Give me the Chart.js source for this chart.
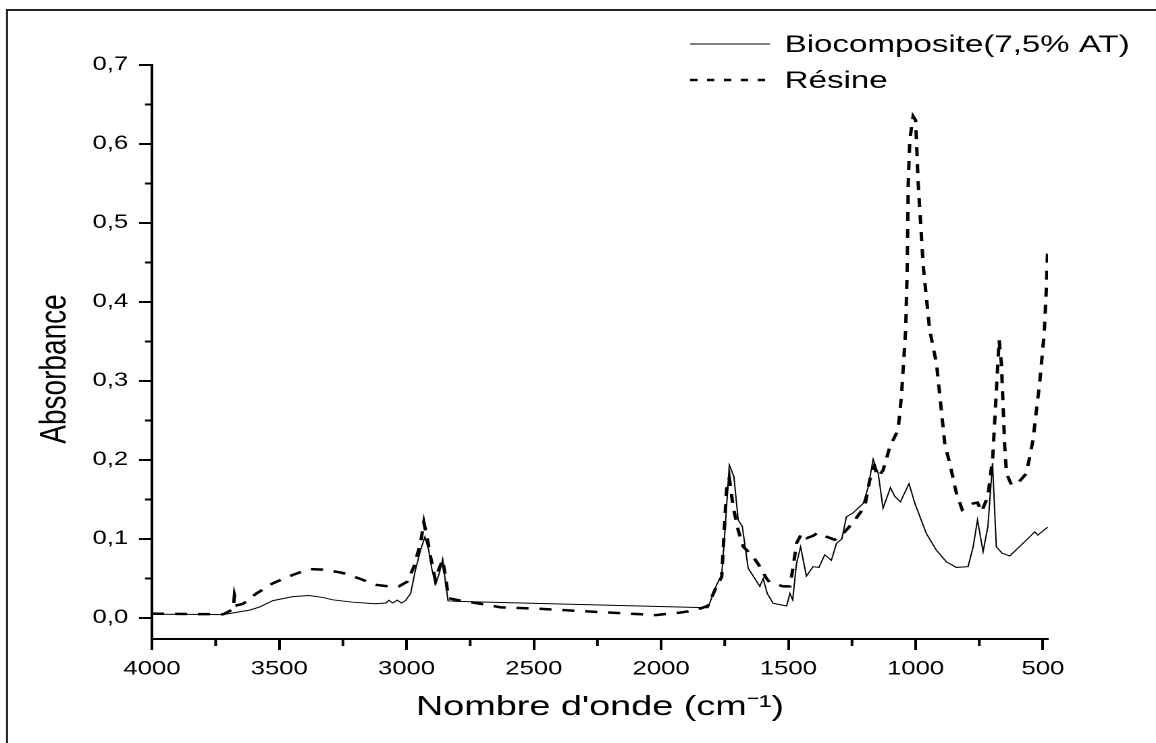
<!DOCTYPE html>
<html>
<head>
<meta charset="utf-8">
<script src="https://cdn.jsdelivr.net/npm/chart.js@4"></script>
<style>
  html, body { margin: 0; padding: 0; background: #fff; overflow: hidden; }
  /* the source figure is stretched sideways, so the chart is drawn narrow and widened */
  #wrap { width: 856px; height: 743px; transform: scaleX(1.3505); transform-origin: 0 0; }
</style>
</head>
<body>
<div id="wrap"><canvas id="chart" width="856" height="743"></canvas></div>
<script>
// wavenumbers (cm-1) and absorbance
const bioWave = [4000, 3850, 3720, 3681, 3616, 3577, 3525, 3447, 3382, 3330, 3290, 3212, 3121, 3080, 3069, 3055, 3036, 3020, 3004, 2984,
  2965, 2945, 2928, 2913, 2900, 2884, 2871, 2858, 2848, 2837, 2800, 1816, 1782, 1762, 1749, 1732, 1714, 1697, 1681, 1658,
  1612, 1599, 1583, 1560, 1507, 1494, 1483, 1468, 1452, 1429, 1403, 1380, 1357, 1331, 1311, 1290, 1272, 1246, 1206, 1186,
  1167, 1147, 1128, 1099, 1082, 1060, 1026, 1003, 958, 919, 879, 840, 794, 774, 757, 735, 716, 698, 683, 660,
  630, 551, 532, 520, 481];
const bioAbs = [0.0047, 0.0045, 0.0042, 0.0065, 0.010, 0.014, 0.022, 0.027, 0.0285, 0.026, 0.023, 0.020, 0.018, 0.019, 0.0225, 0.019, 0.0225, 0.019, 0.022, 0.031,
  0.061, 0.086, 0.1025, 0.086, 0.061, 0.044, 0.057, 0.0745, 0.048, 0.0217, 0.021, 0.013, 0.042, 0.054, 0.111, 0.1937, 0.179, 0.124, 0.116, 0.063,
  0.040, 0.050, 0.031, 0.0186, 0.0152, 0.031, 0.023, 0.069, 0.090, 0.053, 0.065, 0.064, 0.080, 0.073, 0.0945, 0.100, 0.128, 0.133, 0.145, 0.166,
  0.201, 0.183, 0.139, 0.165, 0.154, 0.147, 0.170, 0.145, 0.107, 0.086, 0.071, 0.064, 0.065, 0.090, 0.124, 0.084, 0.116, 0.196, 0.090, 0.082,
  0.0785, 0.103, 0.109, 0.105, 0.115];

const resWave = [4000, 3850, 3720, 3694, 3681, 3676, 3666, 3642, 3590, 3525, 3447, 3382, 3316, 3251, 3186, 3121, 3069, 3030, 2997, 2971,
  2945, 2932, 2919, 2906, 2887, 2874, 2858, 2845, 2835, 2796, 2692, 2630, 2500, 2214, 2021, 1926, 1861, 1816, 1782, 1762,
  1743, 1732, 1717, 1697, 1677, 1638, 1612, 1586, 1573, 1520, 1494, 1481, 1468, 1448, 1429, 1403, 1384, 1351, 1318, 1290,
  1266, 1239, 1200, 1180, 1163, 1147, 1128, 1101, 1069, 1056, 1039, 1033, 1029, 1023, 1010, 1000, 990, 970, 945, 918,
  885, 866, 840, 817, 790, 774, 757, 741, 716, 697, 677, 672, 663, 650, 643, 623, 600, 565, 539, 512,
  495, 486, 481];
const resAbs = [0.0055, 0.005, 0.0047, 0.009, 0.011, 0.029, 0.016, 0.018, 0.031, 0.044, 0.0545, 0.062, 0.061, 0.057, 0.050, 0.042, 0.040, 0.040, 0.046, 0.065,
  0.095, 0.121, 0.101, 0.078, 0.048, 0.061, 0.0735, 0.048, 0.025, 0.0225, 0.017, 0.0135, 0.012, 0.007, 0.0037, 0.0068, 0.010, 0.0155, 0.040, 0.052,
  0.162, 0.177, 0.141, 0.111, 0.090, 0.0776, 0.065, 0.050, 0.045, 0.040, 0.040, 0.065, 0.0945, 0.107, 0.101, 0.104, 0.108, 0.103, 0.099, 0.105,
  0.1135, 0.124, 0.141, 0.175, 0.1915, 0.179, 0.187, 0.217, 0.238, 0.280, 0.365, 0.445, 0.55, 0.605, 0.635, 0.63, 0.55, 0.445, 0.365, 0.322,
  0.219, 0.196, 0.158, 0.137, 0.143, 0.145, 0.146, 0.1346, 0.154, 0.204, 0.322, 0.352, 0.322, 0.217, 0.183, 0.168, 0.170, 0.183, 0.225, 0.30,
  0.36, 0.42, 0.47];

const seriesNames = ['Biocomposite(7,5% AT)', 'Résine'];
const xMajor = [4000, 3500, 3000, 2500, 2000, 1500, 1000, 500];
const xMinor = [3750, 3250, 2750, 2250, 1750, 1250, 750];
const yMajor = [0, 0.1, 0.2, 0.3, 0.4, 0.5, 0.6, 0.7];
const yMinor = [0.05, 0.15, 0.25, 0.35, 0.45, 0.55, 0.65];

const toPoints = (xs, ys) => xs.map((x, i) => ({ x, y: ys[i] }));
const FONT = "'Liberation Sans', Arial, sans-serif";

// frame, minor ticks, y title and the in-plot legend
const extras = {
  id: 'extras',
  beforeDraw(chart) {
    const c = chart.ctx;
    c.save();
    c.strokeStyle = '#222';
    c.lineWidth = 2;
    c.beginPath();
    c.moveTo(4.5, 10);
    c.lineTo(chart.width, 10);
    c.stroke();
    c.lineWidth = 1.5;
    c.beginPath();
    c.moveTo(5.2, 9);
    c.lineTo(5.2, chart.height);
    c.stroke();
    c.restore();
  },
  afterDraw(chart) {
    const c = chart.ctx;
    const xs = chart.scales.x, ys = chart.scales.y;
    const area = chart.chartArea;
    c.save();
    c.strokeStyle = '#000';
    c.lineWidth = 2;
    c.beginPath();
    xMinor.forEach(v => {
      const px = xs.getPixelForValue(v);
      c.moveTo(px, area.bottom);
      c.lineTo(px, area.bottom + 7);
    });
    yMinor.forEach(v => {
      const py = ys.getPixelForValue(v);
      c.moveTo(area.left, py);
      c.lineTo(area.left - 5.2, py);
    });
    c.stroke();

    // y title, sits a little below the axis middle in the source
    c.save();
    c.translate(40.7, 369);
    c.rotate(-Math.PI / 2);
    c.fillStyle = '#000';
    c.font = '28px ' + FONT;
    c.textAlign = 'center';
    c.textBaseline = 'middle';
    c.fillText('Absorbance', 0, 0);
    c.restore();

    // legend
    const rows = [44, 80];
    const dashes = [[], [5.5, 7]];
    chart.data.datasets.forEach((ds, i) => {
      c.strokeStyle = '#000';
      c.lineWidth = ds.borderWidth;
      c.setLineDash(dashes[i]);
      c.beginPath();
      c.moveTo(511, rows[i]);
      c.lineTo(i ? 567 : 570, rows[i]);
      c.stroke();
      c.setLineDash([]);
      c.fillStyle = '#000';
      c.font = '24.5px ' + FONT;
      c.textBaseline = 'middle';
      c.fillText(ds.label, 581, rows[i] + 1);
    });
    c.restore();
  }
};

new Chart(document.getElementById('chart'), {
  type: 'line',
  data: {
    datasets: [
      {
        label: seriesNames[0],
        data: toPoints(bioWave, bioAbs),
        borderColor: '#000',
        borderWidth: 1,
        pointRadius: 0,
        tension: 0
      },
      {
        label: seriesNames[1],
        data: toPoints(resWave, resAbs),
        borderColor: '#000',
        borderWidth: 2.5,
        borderDash: [9, 8],
        pointRadius: 0,
        tension: 0
      }
    ]
  },
  options: {
    responsive: false,
    animation: false,
    devicePixelRatio: 2,
    layout: { padding: { left: 0, top: 65, right: 80, bottom: 0 } },
    plugins: { legend: { display: false }, tooltip: { enabled: false } },
    scales: {
      x: {
        type: 'linear',
        reverse: true,
        min: 480,
        max: 4000,
        afterBuildTicks: s => { s.ticks = xMajor.map(v => ({ value: v })); },
        afterFit: s => { s.height = 104; },
        grid: { display: true, drawOnChartArea: false, drawTicks: true, tickLength: 11, tickWidth: 2, tickColor: '#000' },
        border: { display: true, color: '#000', width: 2 },
        ticks: { color: '#000', font: { family: FONT, size: 19 }, padding: 8, maxRotation: 0, callback: v => String(v) },
        title: { display: true, text: "Nombre d'onde (cm⁻¹)", color: '#000', font: { family: FONT, size: 28 }, padding: { bottom: 19 } }
      },
      y: {
        type: 'linear',
        min: -0.0266,
        max: 0.7,
        afterBuildTicks: s => { s.ticks = yMajor.map(v => ({ value: v })); },
        afterFit: s => { s.width = 112.55; },
        grid: { display: true, drawOnChartArea: false, drawTicks: true, tickLength: 9.6, tickWidth: 2, tickColor: '#000' },
        border: { display: true, color: '#000', width: 2 },
        ticks: { color: '#000', font: { family: FONT, size: 19 }, padding: 8, callback: v => v.toFixed(1).replace('.', ',') }
      }
    }
  },
  plugins: [extras]
});
</script>
</body>
</html>
